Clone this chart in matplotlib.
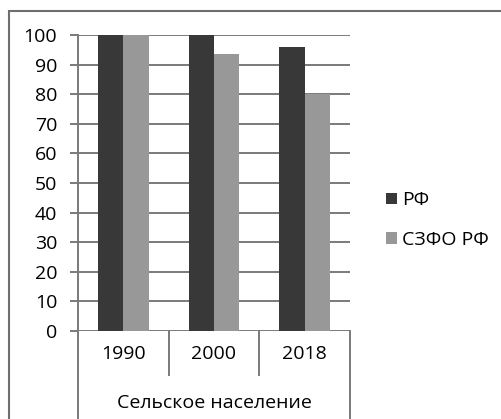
import matplotlib.pyplot as plt
import numpy as np

# data
years = ["1990", "2000", "2018"]
rf = [100, 100, 96]
szfo = [100, 93.5, 80]
series_names = ["РФ", "СЗФО РФ"]
group_label = "Сельское население"
yticks = list(range(0, 101, 10))

plt.rcParams['font.family'] = ['Open Sans', 'DejaVu Sans']
fs = 14

W, H = 502, 419
fig = plt.figure(figsize=(W / 100, H / 100), dpi=100)

# outer chart border
fig.add_artist(plt.Rectangle((9 / W, -0.1), 1.1, 1 - 11 / H + 0.1, transform=fig.transFigure,
                             fill=False, ec="#6e6e6e", lw=1.5))

ax = fig.add_axes([78 / W, 1 - 331 / H, (350 - 78) / W, (331 - 35) / H])

dark = "#383838"
light = "#989898"
grid_c = "#7a7a7a"
bw = 0.28
x = np.arange(len(years))
b1 = ax.bar(x - bw / 2, rf, bw, color=dark, zorder=3, label=series_names[0])
b2 = ax.bar(x + bw / 2, szfo, bw, color=light, zorder=3, label=series_names[1])

ax.set_xlim(-0.5, len(years) - 0.5)
ax.set_ylim(0, 100)
ax.set_yticks(yticks)
ax.yaxis.grid(True, color=grid_c, lw=1.4, zorder=0)
ax.tick_params(axis='y', length=6, width=1.4, color=grid_c, labelsize=fs, pad=9)
ax.set_xticks([])
for s in ["top", "right", "bottom"]:
    ax.spines[s].set_visible(False)
ax.spines["left"].set_color(grid_c)
ax.spines["left"].set_linewidth(1.4)

# category separators below the axis
tr = ax.get_xaxis_transform()
h1 = -(375 - 331) / (331 - 35)
h2 = -(H - 331) / (331 - 35) - 0.02
edges = np.arange(len(years) + 1) - 0.5
for i, e in enumerate(edges):
    bottom = h2 if i in (0, len(edges) - 1) else h1
    ax.plot([e, e], [0, bottom], transform=tr, color=grid_c, lw=1.4, clip_on=False)
for xi, lab in zip(x, years):
    ax.text(xi, h1 / 2 - 0.005, lab, transform=tr, ha="center", va="center", fontsize=fs)
ax.text(np.mean(x), -(403 - 331) / (331 - 35), group_label, transform=tr,
        ha="center", va="center", fontsize=fs)

fig.legend(handles=[b1, b2], labels=series_names, loc="center left",
           bbox_to_anchor=(369 / W, 1 - 220 / H), frameon=False, fontsize=fs,
           handlelength=0.55, handleheight=0.55, handletextpad=0.25, labelspacing=1.1)

fig.savefig("out.png", dpi=100)
